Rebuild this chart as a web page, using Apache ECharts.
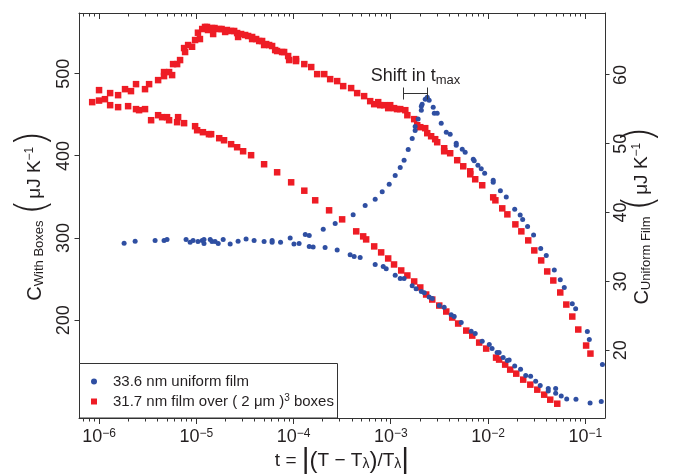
<!DOCTYPE html>
<html><head><meta charset="utf-8">
<script src="https://cdn.jsdelivr.net/npm/echarts@6/dist/echarts.min.js"></script>
<style>html,body{margin:0;padding:0;background:#fff}#c{width:680px;height:474px}</style>
</head><body><div id="c"></div>
<script>
// ---------------- data ----------------
// 33.6 nm uniform film (right axis), branch A: flat -> rising -> peak -> falling
const uniformAT = [1.81e-6,2.35e-6,3.77e-6,4.66e-6,5.0e-6,7.85e-6,8.64e-6,9.27e-6,1.04e-5,1.15e-5,1.20e-5,1.20e-5,1.39e-5,1.45e-5,1.56e-5,1.68e-5,1.89e-5,2.23e-5,2.69e-5,3.25e-5,3.93e-5,4.98e-5,6.02e-5,6.02e-5,7.35e-5,9.23e-5,1.01e-4,1.14e-4,
 1.32e-4,1.45e-4,2.02e-4,2.68e-4,4.10e-4,5.45e-4,6.91e-4,8.16e-4,9.63e-4,1.11e-3,1.25e-3,1.37e-3,1.51e-3,1.66e-3,1.78e-3,1.78e-3,1.91e-3,2.06e-3,2.06e-3,2.10e-3,2.26e-3,2.37e-3,2.48e-3,
 2.73e-3,2.80e-3,3.00e-3,3.30e-3,3.72e-3,4.08e-3,4.71e-3,4.71e-3,5.43e-3,5.82e-3,7.05e-3,7.21e-3,7.87e-3,8.51e-3,9.23e-3,1.13e-2,1.13e-2,1.34e-2,1.54e-2,1.88e-2,2.14e-2,2.27e-2,2.55e-2,2.94e-2,3.48e-2,3.97e-2,4.80e-2,5.53e-2,6.08e-2,7.35e-2,7.96e-2,1.05e-1,1.10e-1,1.50e-1];
const uniformAC = [35.56,35.85,35.96,35.96,36.10,36.10,35.67,35.96,35.81,35.96,35.52,36.10,36.10,35.81,35.81,35.52,36.10,35.42,35.85,36.15,35.96,35.81,35.96,35.67,35.67,36.29,35.42,35.52,
 36.83,36.68,37.56,38.43,39.68,41.02,41.92,43.03,44.10,45.38,46.55,47.59,49.16,50.76,51.93,52.51,53.60,54.87,55.45,55.74,56.47,56.76,56.32,
 55.30,54.43,54.43,52.97,51.67,51.37,50.07,49.77,49.19,48.76,47.74,47.53,46.87,46.37,45.70,44.68,44.39,43.17,42.25,40.47,39.64,38.98,37.99,36.73,34.79,33.78,31.64,30.23,29.12,26.74,26.01,22.72,21.56,17.92];
// branch B: lower falling branch
const uniformBT = [1.45e-4,1.59e-4,2.11e-4,2.81e-4,3.82e-4,4.20e-4,4.84e-4,6.91e-4,8.36e-4,8.97e-4,1.11e-3,1.25e-3,1.37e-3,1.66e-3,1.82e-3,2.06e-3,2.21e-3,2.48e-3,2.67e-3,3.15e-3,3.54e-3,4.18e-3,4.49e-3,5.30e-3,6.71e-3,7.38e-3,8.71e-3,1.03e-2,1.10e-2,1.24e-2,1.30e-2,1.43e-2,1.58e-2,1.65e-2,1.88e-2,2.16e-2,2.44e-2,2.74e-2,3.09e-2,3.44e-2,4.16e-2,4.16e-2,4.96e-2,4.96e-2,5.66e-2,6.44e-2,8.02e-2,1.12e-1,1.46e-1];
const uniformBC = [35.08,34.98,34.94,34.55,33.86,33.63,33.48,32.47,32.18,31.83,30.91,30.43,30.43,29.35,28.92,28.54,28.34,27.75,27.52,26.50,26.26,25.14,24.90,24.03,22.76,22.43,21.31,20.83,20.25,19.67,19.67,18.94,18.50,18.59,17.72,17.24,16.32,16.22,15.49,14.87,14.43,14.08,14.43,13.75,13.35,12.92,12.87,12.34,12.54];

// 31.7 nm film over (2 um)^3 boxes (left axis), branch A: rising to peak then falling
const boxesAT = [8.5e-7,1.0e-6,1.15e-6,1.30e-6,1.57e-6,1.85e-6,2.13e-6,2.40e-6,2.97e-6,3.27e-6,4.05e-6,4.66e-6,4.66e-6,5.25e-6,5.64e-6,5.77e-6,6.35e-6,6.81e-6,7.49e-6,7.67e-6,8.24e-6,9.05e-6,9.72e-6,1.04e-5,1.09e-5,1.15e-5,1.23e-5,1.29e-5,1.32e-5,1.45e-5,1.49e-5,1.54e-5,1.72e-5,1.82e-5,1.98e-5,2.07e-5,2.28e-5,2.45e-5,2.63e-5,2.69e-5,2.89e-5,3.18e-5,3.41e-5,3.75e-5,3.75e-5,4.12e-5,4.43e-5,4.75e-5,4.98e-5,5.23e-5,5.61e-5,6.02e-5,6.47e-5,6.78e-5,7.63e-5,8.0e-5,8.80e-5,9.01e-5,1.06e-4,1.06e-4,1.29e-4,1.52e-4,1.75e-4,2.07e-4,2.38e-4,2.81e-4,3.24e-4,3.91e-4,4.51e-4,5.32e-4,6.14e-4,6.75e-4,7.42e-4,7.78e-4,8.55e-4,9.40e-4,9.86e-4,1.08e-3,1.16e-3,1.25e-3,1.41e-3,1.48e-3,1.74e-3,1.87e-3,2.01e-3,2.26e-3,2.37e-3,2.60e-3,2.86e-3,3.00e-3,3.54e-3,3.54e-3,4.08e-3,4.82e-3,5.56e-3,6.56e-3,6.56e-3,7.38e-3,8.71e-3,1.13e-2,1.19e-2,1.40e-2,1.58e-2,1.91e-2,2.20e-2,2.59e-2,2.99e-2,3.52e-2,4.06e-2,4.69e-2,5.53e-2,6.38e-2,7.35e-2,8.47e-2,1.02e-1,1.13e-1];
const boxesAC = [465.5,480.1,469.1,476.5,474.0,481.3,478.9,487.4,481.3,487.4,492.3,502.1,497.2,502.1,498.4,511.8,511.8,516.7,531.3,526.5,535.0,532.9,541.1,550.0,542.3,554.5,557.0,557.0,553.3,555.7,548.4,555.7,554.5,554.5,550.9,553.3,552.1,552.1,549.6,544.8,548.4,547.2,546.0,544.8,542.3,542.3,539.9,539.9,535.0,536.2,535.0,533.8,528.9,527.7,526.5,526.5,521.6,516.7,517.9,515.5,511.8,508.2,499.6,499.6,493.5,491.1,485.0,482.6,476.5,472.8,466.7,463.0,465.5,461.8,461.8,458.2,461.8,458.2,457.0,457.0,455.7,449.6,444.8,437.4,435.0,433.8,427.7,424.0,420.4,416.7,409.4,405.7,403.3,394.8,387.4,381.3,377.7,371.6,364.3,349.6,346.0,336.2,328.9,316.7,308.2,297.2,285.0,272.8,259.4,248.4,233.8,219.1,204.5,188.7,169.2,159.4];
// branch B: monotonically falling
const boxesBT = [1.0e-6,1.30e-6,1.57e-6,1.99e-6,2.40e-6,2.58e-6,2.97e-6,3.43e-6,4.05e-6,4.45e-6,5.0e-6,5.25e-6,6.50e-6,6.35e-6,7.49e-6,9.72e-6,1.02e-5,1.17e-5,1.35e-5,1.42e-5,1.72e-5,1.93e-5,2.28e-5,2.63e-5,3.03e-5,3.66e-5,4.98e-5,6.78e-5,9.45e-5,1.29e-4,1.67e-4,2.32e-4,3.16e-4,4.41e-4,5.20e-4,5.58e-4,6.75e-4,7.96e-4,9.40e-4,1.08e-3,1.28e-3,1.48e-3,1.74e-3,2.01e-3,2.31e-3,2.67e-3,3.15e-3,3.72e-3,4.28e-3,4.93e-3,5.97e-3,6.88e-3,8.11e-3,9.57e-3,1.21e-2,1.30e-2,1.50e-2,1.69e-2,1.95e-2,2.30e-2,2.72e-2,3.21e-2,3.78e-2,4.36e-2,5.15e-2];
const boxesBC = [467.4,461.8,459.4,460.6,457.0,455.7,457.0,443.5,449.6,447.2,447.2,443.5,447.2,441.1,439.9,436.2,431.3,428.9,426.5,426.5,421.6,419.1,414.3,410.6,405.7,400.9,389.9,380.1,367.9,357.7,346.0,333.8,322.8,308.2,302.1,298.4,289.9,282.6,275.2,267.9,260.6,254.5,247.2,239.9,231.3,225.2,217.9,210.6,203.3,196.0,187.4,181.3,172.8,165.5,154.5,152.1,146.0,139.9,135.0,127.7,121.6,115.5,109.4,103.3,98.4];

// tick values / labels
const xMajor = [1e-6,1e-5,1e-4,1e-3,1e-2,1e-1];
const xMajorExp = ['\u22126','\u22125','\u22124','\u22123','\u22122','\u22121'];
const leftTicks = [200,300,400,500];
const rightTicks = [20,30,40,50,60];
// annotation "Shift in t_max" bracket (t range, right-axis level)
const shiftT = [1.34e-3, 2.37e-3];
const shiftLevel = 57.34;

// ---------------- chart ----------------
const X_MIN = 6.22e-7, X_MAX = 0.1595;
const FONT = "'Liberation Sans', Arial, Helvetica, sans-serif";
const THIN = "'DejaVu Sans', 'Liberation Sans', sans-serif";
const INK = '#231f20';
const AX = '#333333';
const BLUE = '#2f4fa2';
const RED = '#ee1c25';
const BLUE_NAME = '33.6 nm uniform film';
const RED_NAME = '31.7 nm film over ( 2 \u03bcm )3 boxes';

const xMinor = [];
for (let e = -7; e <= -1; e++) for (let k = 2; k <= 9; k++) {
  const v = k * Math.pow(10, e);
  if (v >= X_MIN && v <= X_MAX) xMinor.push(v);
}
const pairs = (ts, cs) => ts.map((t, i) => [t, cs[i]]);
const crisp = v => Math.round(v - 0.5) + 0.5;

const chart = echarts.init(document.getElementById('c'), null, {renderer: 'canvas'});

const lineStyle = {color: AX, width: 1};
const xBase = {type: 'log', logBase: 10, min: X_MIN, max: X_MAX, gridIndex: 0,
  splitLine: {show: false}, minorTick: {show: false}, minorSplitLine: {show: false}};

const nameRich = {
  c: {fontSize: 20, fontFamily: FONT, color: INK},
  sub: {fontSize: 13, fontFamily: FONT, color: INK, padding: [9, 0, 0, 0]},
  par: {fontSize: 42, fontFamily: THIN, fontWeight: 200, color: INK},
  u: {fontSize: 19, fontFamily: FONT, color: INK},
  sup: {fontSize: 12, fontFamily: FONT, color: INK, padding: [0, 0, 11, 0]}
};

// tick marks drawn through the axes' own scales (custom series)
function xTickSeries(values, len) {
  return {type: 'custom', xAxisIndex: 0, yAxisIndex: 0, silent: true, clip: false, z: 6,
    data: values.map(v => [v, 300]), encode: {x: 0, y: 1}, tooltip: {show: false},
    renderItem: function (params, api) {
      const cs = params.coordSys;
      const x = crisp(api.coord([api.value(0), 300])[0]);
      const top = Math.round(cs.y), bottom = Math.round(cs.y + cs.height);
      return {type: 'group', children: [
        {type: 'line', shape: {x1: x, y1: bottom, x2: x, y2: bottom + len}, style: {stroke: AX, lineWidth: 1}},
        {type: 'line', shape: {x1: x, y1: top, x2: x, y2: top + len}, style: {stroke: AX, lineWidth: 1}}
      ]};
    }};
}
function yTickSeries(values, yIdx, side, len) {
  return {type: 'custom', xAxisIndex: 0, yAxisIndex: yIdx, silent: true, clip: false, z: 6,
    data: values.map(v => [1e-3, v]), encode: {x: 0, y: 1}, tooltip: {show: false},
    renderItem: function (params, api) {
      const cs = params.coordSys;
      const y = crisp(api.coord([1e-3, api.value(1)])[1]);
      const x0 = side === 'left' ? Math.round(cs.x) : Math.round(cs.x + cs.width);
      const x1 = side === 'left' ? x0 - len : x0 + len;
      return {type: 'line', shape: {x1: x0, y1: y, x2: x1, y2: y}, style: {stroke: AX, lineWidth: 1}};
    }};
}

const option = {
  animation: false,
  backgroundColor: '#fff',
  textStyle: {fontFamily: FONT},
  grid: {left: 79, right: 75, top: 13, bottom: 56, containLabel: false, outerBoundsMode: 'none'},
  xAxis: [
    Object.assign({}, xBase, {
      position: 'bottom',
      axisLine: {show: true, onZero: false, lineStyle},
      axisTick: {show: false},
      axisLabel: {show: true, customValues: xMajor, margin: 10, color: INK, fontFamily: FONT,
        formatter: function (v) {
          let i = 0, best = 1e9;
          xMajor.forEach((m, j) => { const d = Math.abs(Math.log10(m) - Math.log10(v)); if (d < best) { best = d; i = j; } });
          return '{b|10}{e|' + xMajorExp[i] + '}';
        },
        rich: {b: {fontSize: 18, fontFamily: FONT, color: INK}, e: {fontSize: 12, fontFamily: FONT, color: INK, verticalAlign: 'top'}}
      },
      name: '{t|t = }{bar||}{par|(}{t|T \u2212 T}{s|\u03bb}{par|)}{t|/T}{s|\u03bb}{bar||}',
      nameLocation: 'middle', nameGap: 28, nameMoveOverlap: false,
      nameTextStyle: {color: INK, fontFamily: FONT, rich: {
        t: {fontSize: 19, fontFamily: FONT, color: INK},
        s: {fontSize: 14, fontFamily: FONT, color: INK, padding: [6, 0, 0, 0]},
        par: {fontSize: 24, fontFamily: FONT, color: INK},
        bar: {fontSize: 30, fontFamily: FONT, color: INK}
      }}
    }),
    Object.assign({}, xBase, {
      position: 'top',
      axisLine: {show: true, onZero: false, lineStyle},
      axisTick: {show: false},
      axisLabel: {show: false}
    })
  ],
  yAxis: [
    {
      type: 'value', position: 'left', min: 81, max: 574,
      axisLine: {show: true, onZero: false, lineStyle},
      axisTick: {show: false},
      axisLabel: {show: true, customValues: leftTicks, rotate: 90, margin: 6, fontSize: 18, color: INK, fontFamily: FONT},
      splitLine: {show: false},
      name: '{c|C}{sub|With Boxes}{u| }{par|(}{u|\u03bcJ K}{sup|\u22121}{par|)}',
      nameLocation: 'middle', nameGap: 23, nameMoveOverlap: false,
      nameTextStyle: {color: INK, fontFamily: FONT, rich: nameRich}
    },
    {
      type: 'value', position: 'right', min: 10.15, max: 69.0,
      axisLine: {show: true, onZero: false, lineStyle},
      axisTick: {show: false},
      axisLabel: {show: true, customValues: rightTicks, rotate: 90, margin: 7, fontSize: 18, color: INK, fontFamily: FONT},
      splitLine: {show: false},
      name: '{c|C}{sub|Uniform Film}{u| }{par|(}{u|\u03bcJ K}{sup|\u22121}{par|)}',
      nameLocation: 'middle', nameGap: 16, nameMoveOverlap: false,
      nameTextStyle: {color: INK, fontFamily: FONT, rich: nameRich}
    }
  ],
  legend: {
    left: 91, top: 374, orient: 'vertical', padding: 0, itemWidth: 28, itemHeight: 6, itemGap: 4,
    z: 20, selectedMode: false,
    data: [{name: BLUE_NAME, icon: 'circle'}, {name: RED_NAME, icon: 'path://M0,0H10V10H0Z'}],
    formatter: function (name) {
      if (name === RED_NAME) return '{a|31.7 nm film over ( 2 \u03bcm )}{s|3}{a| boxes}';
      return '{a|' + name + '}';
    },
    textStyle: {fontFamily: FONT, fontSize: 15, color: INK, rich: {
      a: {fontSize: 15, fontFamily: FONT, color: INK, lineHeight: 17},
      s: {fontSize: 10, fontFamily: FONT, color: INK, verticalAlign: 'top'}
    }}
  },
  series: [
    {name: RED_NAME, type: 'scatter', xAxisIndex: 0, yAxisIndex: 0, symbol: 'rect', symbolSize: 6.5,
      itemStyle: {color: RED, opacity: 1}, z: 2,
      data: pairs(boxesAT, boxesAC).concat(pairs(boxesBT, boxesBC))},
    {name: BLUE_NAME, type: 'scatter', xAxisIndex: 0, yAxisIndex: 1, symbol: 'circle', symbolSize: 5,
      itemStyle: {color: BLUE, opacity: 1}, z: 3,
      data: pairs(uniformAT, uniformAC).concat(pairs(uniformBT, uniformBC))},
    xTickSeries(xMajor, 6),
    xTickSeries(xMinor, 3.5),
    yTickSeries(leftTicks, 0, 'left', 4.5),
    yTickSeries(rightTicks, 1, 'right', 4.5)
  ]
};
chart.setOption(option);

// legend frame + annotation bracket placed through the chart's own scales
const p1 = chart.convertToPixel({seriesIndex: 1}, [shiftT[0], shiftLevel]);
const p2 = chart.convertToPixel({seriesIndex: 1}, [shiftT[1], shiftLevel]);
const by = crisp(p1[1]);
const bx1 = crisp(p1[0]), bx2 = crisp(p2[0]);
const cap = 6;
chart.setOption({graphic: [
  {id: 'legendBox', type: 'rect', z: 15, silent: true,
    shape: {x: 79.5, y: 363.5, width: 258, height: 54.5},
    style: {fill: '#fff', stroke: AX, lineWidth: 1}},
  {id: 'br', type: 'line', z: 10, silent: true,
    shape: {x1: bx1, y1: by, x2: bx2, y2: by}, style: {stroke: '#333', lineWidth: 1}},
  {id: 'brL', type: 'line', z: 10, silent: true,
    shape: {x1: bx1, y1: by - cap, x2: bx1, y2: by + cap}, style: {stroke: '#333', lineWidth: 1}},
  {id: 'brR', type: 'line', z: 10, silent: true,
    shape: {x1: bx2, y1: by - cap, x2: bx2, y2: by + cap}, style: {stroke: '#333', lineWidth: 1}},
  {id: 'shiftText', type: 'text', z: 10, silent: true,
    x: (bx1 + bx2) / 2, y: by - 17,
    style: {text: '{a|Shift in t}{s|max}', align: 'center', verticalAlign: 'middle',
      rich: {a: {fontSize: 18, fontFamily: FONT, fill: INK, color: INK},
             s: {fontSize: 13, fontFamily: FONT, fill: INK, color: INK, padding: [8, 0, 0, 0]}}}}
]});
</script>
</body></html>
